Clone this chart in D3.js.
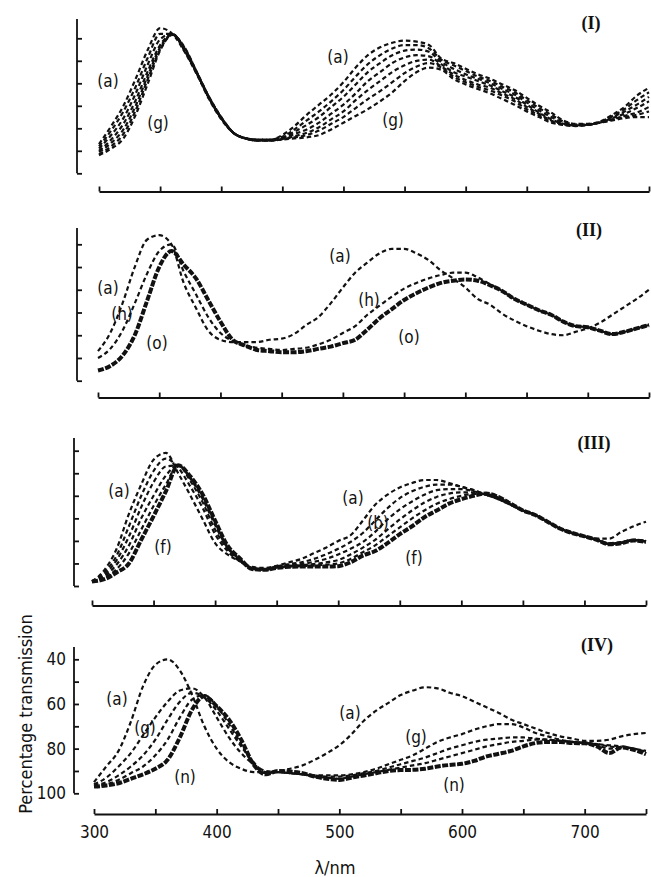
<!DOCTYPE html>
<html>
<head>
<meta charset="utf-8">
<script src="https://cdn.jsdelivr.net/npm/d3@7"></script>
<style>
  body { margin: 0; background: #fff; }
  svg { display: block; }
  text { font-family: "DejaVu Sans Condensed", "DejaVu Sans", sans-serif; fill: #111; }
</style>
</head>
<body>
<script>
// wavelengths (nm) shared by every spectrum
var wavelengths = [300,310,320,330,340,350,360,370,380,390,400,410,420,430,440,450,460,470,480,490,
                   500,510,520,530,540,550,560,570,580,590,600,610,620,630,640,650,660,670,680,690,
                   700,710,720,730,740,750];
var xTicks = [300,350,400,450,500,550,600,650,700,750];
var xTickLabels = [300,400,500,600,700];
var yTicks = [40,50,60,70,80,90,100];
var yTickLabels = [40,60,80,100];

// panel (I), curves (a) .. (g), percentage transmission
var p1_a = [87,79,70,58,45,35.5,38,46,56,67, 76,82,84.5,85,85,83,79,74,69.5,65, 59.5,53,47.5,44,42,41,41.5,43,49,51, 53.5,56,58,60.5,63,66.5,70,73,76.5,78, 78,77,74,70.5,65.5,62];
var p1_b = [88,81,72.5,61.5,48.5,38,38,45.5,55.5,66.5, 75.5,82,84.5,85,85,83.8,80.5,76.5,72.5,68, 63,57,51.5,47.5,44.5,43,43,44.5,49.5,52, 54.5,57,59,61.5,64,67.5,71,74,77,78.3, 78.2,77.2,74.5,71.5,67.5,64];
var p1_c = [89,83,75.5,64.5,51.5,40.5,38,45.5,55.5,66.5, 75.5,82,84.5,85.2,85.2,84.2,81.5,78.5,75,70.5, 66,60.5,55,51,47.5,45.5,45,46,50.5,53.5, 56,58,60,62.5,65,68.5,72,75,77.5,78.5, 78.3,77.3,75,72.5,69.5,66];
var p1_d = [90,85,78,67.5,54.5,43,38.2,45,55.5,66.5, 75.5,82,84.5,85.3,85.3,84.5,82.5,80.5,77.5,73.5, 69.5,64.5,59,55,51,48.5,47.5,48,51.5,55, 57,59,61,63.5,66,69.5,73,76,78,78.7, 78.4,77.4,75.5,73.5,71,68];
var p1_e = [90.5,86.5,80.5,70,56.5,44,38.3,44.5,55.2,66.2, 75.2,82,84.5,85.4,85.4,84.7,83.5,82,79.5,76, 72.5,67.5,63,59,55,52,50,49.5,52.5,56, 58.5,60.5,62,64.5,67,70.5,73.5,76.5,78.2,78.8, 78.4,77.4,76,74.5,73,70.5];
var p1_f = [91.5,88,82.5,72,58,45,38.4,44.2,55,66, 75,82,84.5,85.5,85.5,84.8,84,83,81,78, 75,71,67,63.5,59.5,55.5,52.5,51,53,57, 59.5,61.5,63.2,65.5,68,71.5,74.2,77,78.4,78.9, 78.5,77.5,76.2,75,74,72.5];
var p1_g = [92,89,84.5,74,60,45.5,38.5,44,55,66, 75,82,84.5,85.5,85.5,85,84.5,84,83,80.5, 77.5,74.5,71.5,68,64,59,55,53,54,58, 60.5,62.5,64.5,67,69.5,72.5,75,77.5,78.5,79, 78.5,77.5,76.5,75.5,75,75];

// panel (II), curves (a), (h), (o)
var p2_a = [87,79,66,50,38,36,40,57,68,78, 82,83,83,83,82,81.5,79.5,75.5,72,66, 59,52.5,48,44,42,42,44,47,51.5,55, 59,64,66.5,70.5,73.5,76,78,79.5,80,78.5, 77,74.5,71,67.5,64,60];
var p2_h = [90,86,78,66,53,43,40,52,62,72, 79,82.5,84.5,85.5,86,86.5,86,85.5,84,82, 79,76,71,67,63,59.5,57,55,53.5,52.5, 52.5,54.5,57.5,60.5,64,66.5,69,71,74,76, 76.5,78,79.5,78.5,77,75.5];
var p2_o = [95.5,93.5,89,80,65,50,43,49,55,64.5, 74,82,84.5,86.5,87,87.5,87.5,87,86,85, 83.5,82,77.5,72.5,68.5,64.5,61.5,59,57,56, 55.5,56,58,60.5,64,66.5,69,71,74,76, 76.5,78,79.5,78.5,77,75.5];

// panel (III), curves (a) .. (f)
var p3_a = [98,93,83.5,68,55,44,41,50,60,70.5, 81,86,89,91.5,92,91,89.5,88,85.5,83, 80,77.5,71,64,59.5,56.3,54.3,53,53,54.3, 56,57.5,59.5,61,63.5,66.5,68.5,71.5,74.5,76.5, 78,79,79,76,73.5,71.5];
var p3_b = [98,94,86.5,73.5,60,49,43.5,47.5,56,65.5, 77,84.5,89,92,92.5,91.3,90.3,89.5,88,86, 83.5,80.5,76.5,71,65.5,61,58,56,55,55, 56,57.5,59.5,61.5,64,66.5,68.5,71.5,74.5,76.5, 78,79.5,81,80.5,79.5,80];
var p3_c = [98,95,88.5,78,65,54,47,46.5,53.5,63, 75,83.5,88.5,92.2,92.6,91.5,90.8,90.3,89.3,88, 86,83.5,80.5,76,70.5,66,62.5,59.5,57.5,57, 57,58,59.5,61.5,64,66.5,68.5,71.5,74.5,76.5, 78,79.5,81.2,80.7,79.6,80.2];
var p3_d = [98,95.7,90.5,82,70,60,51,46.5,52.5,61.5, 73,83,88.2,92.3,92.7,91.7,91.1,90.8,90.3,89.5, 88.5,86,83,79.5,75,70.5,66.5,63,60.5,59, 58.5,58.5,59.5,61,63.7,66.5,68.5,71.5,74.5,76.5, 78,79.5,81.3,80.8,79.7,80.3];
var p3_e = [98,96.3,92.5,85.5,75,64.5,55,46.5,52,60.5, 72,82.5,88,92.4,92.8,91.9,91.4,91.2,91,90.5, 90,88,85,82,78,74,70,66.5,63.5,61.5, 60,59.2,59.2,60.7,63.6,66.5,68.5,71.5,74.5,76.5, 78,79.5,81.4,80.9,79.7,80.4];
var p3_f = [98,97,94,90,79.5,69,58,46.5,51.5,59.5, 71,82,87.7,92.5,92.8,92,91.5,91.4,91.4,91.4, 91.2,89.5,86.5,84.5,81,77,73.5,69.5,66.5,63.5, 61.5,60,59,60.5,63.5,66.5,68.5,71.5,74.5,76.5, 78,79.5,81.5,81,79.8,80.5];

// panel (IV), curves (a), (g), (n) and two in between
var p4_a = [95,88,81,68,52,42.5,40,45,56,70, 80,86,89,90.5,90.5,90,89,87.5,85,82, 78.5,73.5,67.5,63,59.5,56,54,52.5,53,55, 56.5,59,61.5,64,67,69,71,73,74.5,75.5, 76.5,76.5,76,74.5,73.5,73];
var p4_g = [96,93,88,82,74,66,59,54,53,57, 66,75,82,87,90,90.5,91,91.5,92,92, 92,91.5,90.5,89,87,85,83,80,77,75, 73.5,71.5,70,69,69,70.5,73,74.5,76,77, 77.5,78,78.5,79,80,81];
var p4_j = [96.5,95,92,88,83,76,67,59,55,57, 63,71,79,86,90.5,90.5,91,91.5,92,92.5, 92.5,92,91,90,88.5,87,85.5,84,82,80, 78.5,77,76,75.5,75,75,75.5,76,76.5,77, 77.5,78,79,79.5,80,81.5];
var p4_l = [97,96,94,91,88,83,76,66,58,56, 61,69,78,87,91,90.5,91,91.5,92.5,93, 93.5,92.5,91.5,90.5,89.5,88.5,87.5,86.5,85,83.5, 82,80.5,79,78,77,76.5,76,76,76.5,77, 77.5,78.5,80,79.5,80.5,82];
var p4_n = [97,96.5,95.5,93.5,91.5,89,85,75,62.5,56.5, 61,67,76,87,91.5,90,90.3,91,92.5,93.5, 94,93,92,91,90,89.6,89.5,89,88,87.3, 86.8,85.5,83.5,82.3,81,79,77.5,77,77,77.5, 77.6,79,82,79.5,80.5,82.5];

var width = 651, height = 877;

var svg = d3.select("body").append("svg")
  .attr("width", width)
  .attr("height", height);

// layout of the four stacked panels (pixel positions of the scanned figure)
var panels = [
  { name: "(I)",   x0: 99, x1: 649, y40: 38.3,  y100: 173.3, top: 19,  axisX: 77, xAxisY: 191.5,
    curves: [p1_a, p1_b, p1_c, p1_d, p1_e, p1_f, p1_g], bold: [],
    labels: [["(a)",108,81],["(g)",158,123],["(a)",338,57],["(g)",393,120]], nameXY: [591,23] },
  { name: "(II)",  x0: 98, x1: 649, y40: 244.3, y100: 380.7, top: 228, axisX: 77, xAxisY: 397.5,
    curves: [p2_a, p2_h, p2_o], bold: [2],
    labels: [["(a)",108,288],["(h)",122,314],["(o)",157,343],["(a)",340,256],["(h)",369,300],["(o)",409,337]], nameXY: [589,230] },
  { name: "(III)", x0: 92, x1: 646, y40: 450.7, y100: 586,   top: 438, axisX: 74, xAxisY: 605.5,
    curves: [p3_a, p3_b, p3_c, p3_d, p3_e, p3_f], bold: [5],
    labels: [["(a)",119,491],["(f)",163,547],["(a)",353,498],["(b)",378,523],["(f)",414,558]], nameXY: [594,443] },
  { name: "(IV)",  x0: 94, x1: 646, y40: 659.3, y100: 793.3, top: 647, axisX: 74, xAxisY: 814,
    curves: [p4_a, p4_g, p4_j, p4_l, p4_n], bold: [4],
    labels: [["(a)",117,699],["(g)",145,728],["(n)",185,777],["(a)",350,713],["(g)",416,737],["(n)",454,785]], nameXY: [597,645],
    showLabels: true }
];

panels.forEach(function(p) {
  var x = d3.scaleLinear().domain([300, 750]).range([p.x0, p.x1]);
  var y = d3.scaleLinear().domain([40, 100]).range([p.y40, p.y100]);

  var line = d3.line()
    .x(function(d, i) { return x(wavelengths[i]); })
    .y(function(d) { return y(d); })
    .curve(d3.curveMonotoneX);

  var g = svg.append("g");

  // spectra, drawn as broken plotter traces
  p.curves.forEach(function(c, k) {
    var heavy = p.bold.indexOf(k) >= 0;
    g.append("path")
      .datum(c)
      .attr("d", line)
      .attr("fill", "none")
      .attr("stroke", "#111")
      .attr("stroke-width", heavy ? 4 : 2.2)
      .attr("stroke-dasharray", heavy ? "6,1.5" : "4.5,3");
  });

  // y axis: ticks point inwards, line runs a little above 40
  var yAxis = g.append("g")
    .attr("transform", "translate(" + p.axisX + ",0)")
    .call(d3.axisLeft(y)
      .tickValues(yTicks)
      .tickSize(-5)
      .tickPadding(8)
      .tickFormat(function(d) { return p.showLabels && yTickLabels.indexOf(d) >= 0 ? d : ""; }));
  yAxis.select(".domain").remove();
  yAxis.selectAll("line").attr("stroke", "#111").attr("stroke-width", 1.8);
  yAxis.selectAll("text").style("font-size", "17px").attr("fill", "#111");
  g.append("line")
    .attr("x1", p.axisX).attr("x2", p.axisX)
    .attr("y1", p.top).attr("y2", y(100))
    .attr("stroke", "#111").attr("stroke-width", 1.8);

  // x axis sits below the panel, ticks pointing up
  var xAxis = g.append("g")
    .attr("transform", "translate(0," + p.xAxisY + ")")
    .call(d3.axisBottom(x)
      .tickValues(xTicks)
      .tickSize(-5)
      .tickSizeOuter(0)
      .tickPadding(12)
      .tickFormat(function(d) { return p.showLabels && xTickLabels.indexOf(d) >= 0 ? d : ""; }));
  xAxis.select(".domain").attr("stroke", "#111").attr("stroke-width", 1.8);
  xAxis.selectAll("line").attr("stroke", "#111").attr("stroke-width", 1.8);
  xAxis.selectAll("text").style("font-size", "17px").attr("fill", "#111");

  // curve labels
  p.labels.forEach(function(l) {
    g.append("text")
      .attr("x", l[1]).attr("y", l[2])
      .attr("text-anchor", "middle")
      .attr("dominant-baseline", "central")
      .style("font-size", "17px")
      .text(l[0]);
  });

  // panel numeral
  g.append("text")
    .attr("x", p.nameXY[0]).attr("y", p.nameXY[1])
    .attr("text-anchor", "middle")
    .attr("dominant-baseline", "central")
    .style("font-family", "'Liberation Serif', serif")
    .style("font-weight", "bold")
    .style("font-size", "18px")
    .text(p.name);
});

// axis titles
svg.append("text")
  .attr("transform", "translate(25,714) rotate(-90)")
  .attr("text-anchor", "middle")
  .attr("dominant-baseline", "central")
  .style("font-size", "18px")
  .text("Percentage transmission");

svg.append("text")
  .attr("x", 335).attr("y", 867)
  .attr("text-anchor", "middle")
  .attr("dominant-baseline", "central")
  .style("font-size", "18px")
  .text("λ/nm");
</script>
</body>
</html>
